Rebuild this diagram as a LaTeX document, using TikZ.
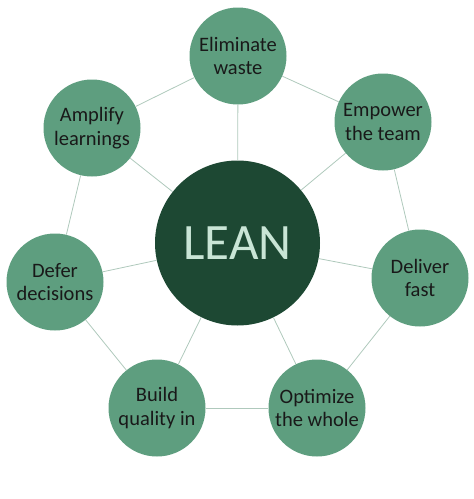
\documentclass[tikz,border=0pt]{standalone}
\usepackage{fontspec}
\setmainfont{Carlito}
\definecolor{outerfill}{HTML}{5E9E7F}
\definecolor{corefill}{HTML}{1D4833}
\definecolor{coretext}{HTML}{C9E5D6}
\definecolor{linkcol}{HTML}{AFC9BC}
\begin{document}
\begin{tikzpicture}[x=1pt,y=-1pt,
  outer/.style={circle,fill=outerfill,minimum size=97pt,inner sep=0pt,align=center,
    font=\fontsize{20.5}{23.5}\selectfont,text=black!90},
  core/.style={circle,fill=corefill,minimum size=165pt,inner sep=0pt,
    font=\fontsize{51}{55}\selectfont,text=coretext},
  link/.style={draw=linkcol,line width=0.8pt}]
\useasboundingbox (0,0) rectangle (474,499);
\node[core] (c) at (237.5,243) {LEAN};
\node[outer] (o1) at (238,56) {Eliminate\\waste};
\node[outer] (o2) at (383,122) {Empower\\the team};
\node[outer] (o3) at (420,278) {Deliver\\fast};
\node[outer] (o4) at (317,408) {Optimize\\the whole};
\node[outer] (o5) at (157,408) {Build\\quality in};
\node[outer] (o6) at (55,282) {Defer\\decisions};
\node[outer] (o7) at (92,128) {Amplify\\learnings};
\foreach \i/\j in {o1/o2,o2/o3,o3/o4,o4/o5,o5/o6,o6/o7,o7/o1}
  \draw[link] (\i) -- (\j);
\foreach \i in {o1,o2,o3,o4,o5,o6,o7}
  \draw[link] (c) -- (\i);
\end{tikzpicture}
\end{document}
